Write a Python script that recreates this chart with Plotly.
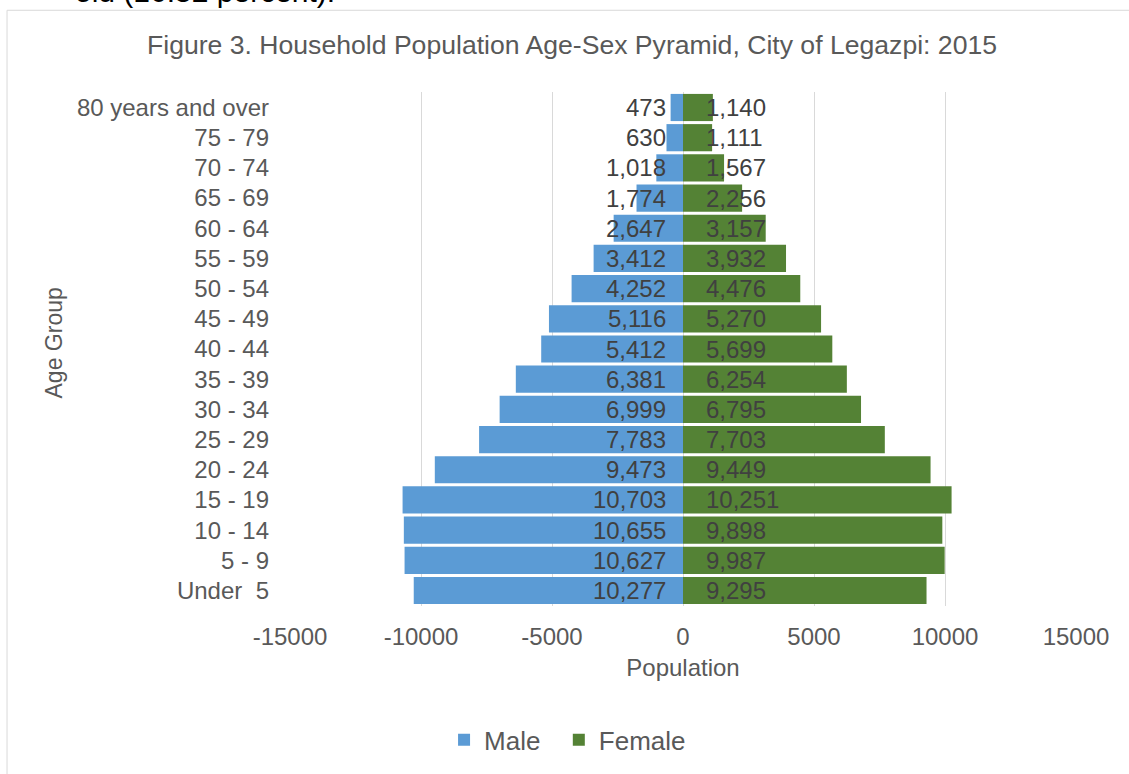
import plotly.graph_objects as go

# ---- data ----
age_groups = ["Under \u00a05", "5 - 9", "10 - 14", "15 - 19", "20 - 24", "25 - 29",
              "30 - 34", "35 - 39", "40 - 44", "45 - 49", "50 - 54", "55 - 59",
              "60 - 64", "65 - 69", "70 - 74", "75 - 79", "80 years and over"]
male = [10277, 10627, 10655, 10703, 9473, 7783, 6999, 6381, 5412, 5116,
        4252, 3412, 2647, 1774, 1018, 630, 473]
female = [9295, 9987, 9898, 10251, 9449, 7703, 6795, 6254, 5699, 5270,
          4476, 3932, 3157, 2256, 1567, 1111, 1140]
x_tickvals = [-15000, -10000, -5000, 0, 5000, 10000, 15000]
x_ticktext = ["-15000", "-10000", "-5000", "0", "5000", "10000", "15000"]

title_text = "Figure 3. Household Population Age-Sex Pyramid, City of Legazpi: 2015"
cut_text = "old (16.52 percent)."

FONT = "Liberation Sans, Arial, sans-serif"
GREY = "#595959"
LABEL = "#404040"
BLUE = "#5B9BD5"
GREEN = "#548235"

fig = go.Figure()
fig.add_trace(go.Bar(y=age_groups, x=[-v for v in male], orientation="h",
                     name="Male", marker=dict(color=BLUE, line=dict(width=0)),
                     hoverinfo="skip", legend="legend"))
fig.add_trace(go.Bar(y=age_groups, x=female, orientation="h",
                     name="Female", marker=dict(color=GREEN, line=dict(width=0)),
                     hoverinfo="skip", legend="legend2"))

annotations = []
for cat, m, f in zip(age_groups, male, female):
    annotations.append(dict(x=0, y=cat, xref="x", yref="y", text=f"{m:,}",
                            showarrow=False, xanchor="right", xshift=-15,
                            font=dict(family=FONT, size=24, color=LABEL)))
    annotations.append(dict(x=0, y=cat, xref="x", yref="y", text=f"{f:,}",
                            showarrow=False, xanchor="left", xshift=21,
                            font=dict(family=FONT, size=24, color=LABEL)))

# chart title
annotations.append(dict(x=0.3588, y=1.0913, xref="paper", yref="paper",
                        text=title_text, showarrow=False, xanchor="center",
                        yanchor="middle",
                        font=dict(family=FONT, size=26.6, color=GREY)))
# y-axis title
annotations.append(dict(x=-0.3003, y=0.5126, xref="paper", yref="paper",
                        text="Age Group", showarrow=False, textangle=-90,
                        xanchor="center", yanchor="middle",
                        font=dict(family=FONT, size=23, color=GREY)))
# cut-off text of the page above the chart
annotations.append(dict(x=-0.276, y=1.196, xref="paper", yref="paper",
                        text=cut_text, showarrow=False, xanchor="left",
                        yanchor="middle",
                        font=dict(family=FONT, size=30, color="#000000")))

legend_common = dict(orientation="h", yanchor="middle", y=-0.258,
                     xanchor="left", bgcolor="rgba(0,0,0,0)",
                     font=dict(family=FONT, size=26, color=GREY))

fig.update_layout(
    width=1129, height=774,
    margin=dict(l=290, r=53, t=92, b=167),
    paper_bgcolor="white", plot_bgcolor="white",
    barmode="relative", bargap=0.1,
    font=dict(family=FONT, size=24, color=GREY),
    annotations=annotations,
    showlegend=True,
    legend=dict(x=0.196, **legend_common),
    legend2=dict(x=0.342, **legend_common),
    shapes=[dict(type="rect", xref="paper", yref="paper", x0=-0.360, x1=1.3,
                 y0=-0.6, y1=1.159, line=dict(color="#d9d9d9", width=1),
                 layer="below")],
)
fig.update_xaxes(range=[-15000, 15000], tickvals=x_tickvals, ticktext=x_ticktext,
                 showgrid=True, gridcolor="#d9d9d9", gridwidth=1,
                 zeroline=True, zerolinecolor="#d9d9d9", zerolinewidth=1,
                 showline=False, ticks="", ticklabelstandoff=14,
                 tickfont=dict(family=FONT, size=24, color=GREY),
                 title=dict(text="Population", standoff=10,
                            font=dict(family=FONT, size=24, color=GREY)))
fig.update_yaxes(categoryorder="array", categoryarray=age_groups,
                 showgrid=False, showline=False, ticks="",
                 ticklabelstandoff=20,
                 tickfont=dict(family=FONT, size=24, color=GREY))

fig.write_html("out.html", config={"displayModeBar": False},
               post_script="document.body.style.margin='0';")
